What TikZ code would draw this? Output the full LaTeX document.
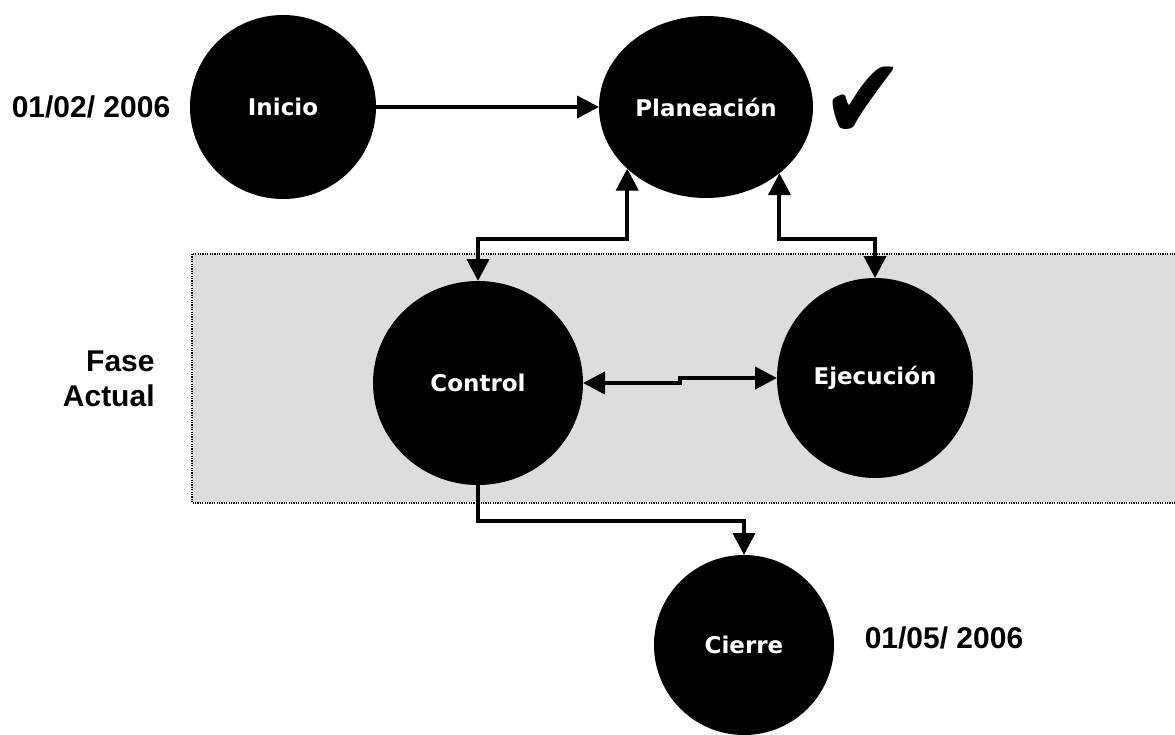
\documentclass[tikz,border=0pt]{standalone}
\usepackage{fontspec}
\usepackage{xcolor}
\usetikzlibrary{arrows.meta,shapes.geometric}
\newfontfamily\labelfont{DejaVu Sans}
\newfontfamily\datefont{Liberation Sans}
\definecolor{fasegray}{RGB}{221,221,221}

\begin{document}
\begin{tikzpicture}[x=0.5pt,y=-0.5pt,
    etapa/.style={ellipse, fill=black, text=white, inner sep=0pt, outer sep=0pt,
      font=\labelfont\bfseries\fontsize{11.5}{13}\selectfont},
    dato/.style={font=\datefont\bfseries\fontsize{15}{17.5}\selectfont, inner sep=0pt},
    flecha/.style={line width=2pt, -{Triangle[length=11pt,width=11pt]}},
    dflecha/.style={line width=2pt, {Triangle[length=11pt,width=11pt]}-{Triangle[length=11pt,width=11pt]}}]
    \useasboundingbox (0,0) rectangle (1175,735);

    % Current phase band
    \draw[fill=fasegray, line width=0.6pt, dash pattern=on 0.6pt off 0.6pt] (192,254) rectangle (1180,503);
    \node[dato, align=right, anchor=east] (fase) at (155,379) {Fase\\Actual};

    % Stages
    \node[etapa, minimum width=93pt, minimum height=92pt] (ini) at (283,107) {Inicio};
    \node[etapa, minimum width=107pt, minimum height=91pt] (plan) at (706,107) {Planeación};
    \node[etapa, minimum width=105pt, minimum height=102pt] (ctrl) at (478,383) {Control};
    \node[etapa, minimum width=98pt, minimum height=100pt] (ejec) at (875,378) {Ejecución};
    \node[etapa, minimum width=90pt, minimum height=90pt] (cierre) at (744,645) {Cierre};

    % Dates and check mark
    \node[dato] (inicio) at (91,107) {01/02/ 2006};
    \node[dato] (fin) at (944,638) {01/05/ 2006};
    \node[font=\labelfont\fontsize{50}{50}\selectfont, inner sep=0pt] (ok) at (863,103) {\scalebox{1}[1.15]{✔}};

    % Connectors
    \coordinate (busA) at (0,239);
    \coordinate (busB) at (0,521);
    \coordinate (paso) at (680,0);
    \draw[flecha] (ini.east) -- (plan.west);
    \draw[dflecha] (ctrl.north) -- (ctrl.north |- busA) -| (plan.218);
    \draw[dflecha] (plan.318) -- (plan.318 |- busA) -| (ejec.north);
    \draw[dflecha] (ctrl.east) -- (ctrl.east -| paso) |- (ejec.west);
    \draw[flecha] (ctrl.south) -- (ctrl.south |- busB) -| (cierre.north);
\end{tikzpicture}
\end{document}
